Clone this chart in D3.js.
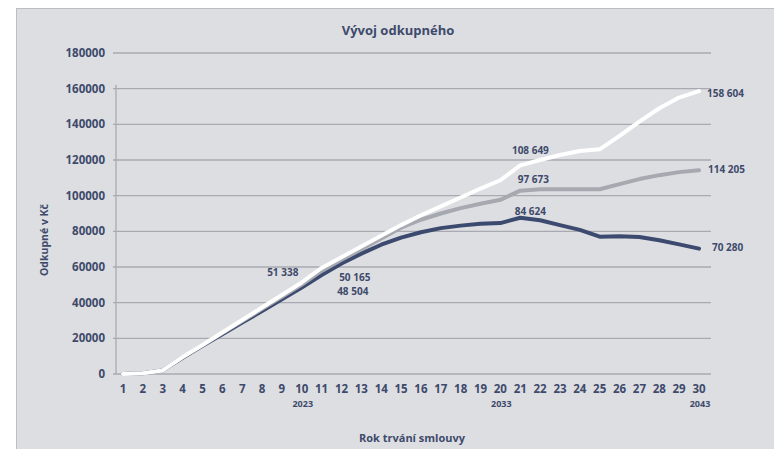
<!DOCTYPE html>
<html>
<head>
<meta charset="utf-8">
<script src="https://cdn.jsdelivr.net/npm/d3@7"></script>
<style>
  html, body { margin: 0; padding: 0; background: #ffffff; }
  svg { display: block; font-family: "Open Sans", "Noto Sans", sans-serif; }
</style>
</head>
<body>
<svg id="chart" width="774" height="449"></svg>
<script>
// ---- data ----
const years = d3.range(1, 31);
const seriesWhite = [0, 400, 2000, 9500, 16300, 23300, 30300, 37300, 44300, 51338,
  59500, 65500, 71500, 77500, 83500, 89000, 94000, 99000, 104000, 108649,
  117000, 120000, 122800, 125000, 126000, 133500, 141500, 149000, 155000, 158604];
const seriesGray = [0, 400, 2000, 9300, 16100, 22900, 29700, 36500, 43300, 50165,
  57800, 64000, 70000, 76000, 82000, 86500, 90000, 93000, 95500, 97673,
  102800, 103600, 103600, 103600, 103600, 106500, 109300, 111500, 113200, 114205];
const seriesDark = [0, 400, 2000, 9100, 15800, 22300, 28800, 35300, 41900, 48504,
  55500, 62000, 67500, 72500, 76500, 79500, 81800, 83200, 84200, 84624,
  87600, 86200, 83500, 80800, 77000, 77300, 76800, 75000, 72700, 70280];
const yTicks = [0, 20000, 40000, 60000, 80000, 100000, 120000, 140000, 160000, 180000];
const yearLabels = [{ cat: 10, label: "2023" }, { cat: 20, label: "2033" }, { cat: 30, label: "2043" }];
const titleText = "Vývoj odkupného";
const yTitle = "Odkupné v Kč";
const xTitle = "Rok trvání smlouvy";
// data labels
const annotations = [
  { year: 10, value: 51338, text: "51 338", dx: -19, dy: -10 },
  { year: 10, value: 50165, text: "50 165", dx: 53, dy: -7 },
  { year: 10, value: 48504, text: "48 504", dx: 51, dy: 3.5 },
  { year: 20, value: 108649, text: "108 649", dx: 30, dy: -30 },
  { year: 20, value: 97673, text: "97 673", dx: 33, dy: -20 },
  { year: 20, value: 84624, text: "84 624", dx: 30, dy: -12 },
];
const endLabels = [
  { value: 158604, text: "158 604", dx: 8, dy: 2 },
  { value: 114205, text: "114 205", dx: 9, dy: -1 },
  { value: 70280, text: "70 280", dx: 13, dy: -1 },
];

// ---- styles ----
const textColor = "#3d4a6b";
const gridColor = "#a9aab1";
const bgColor = "#dddee2";

const svg = d3.select("#chart");
svg.append("rect").attr("x", 16.5).attr("y", 8.5).attr("width", 800).attr("height", 500)
  .attr("fill", bgColor).attr("stroke", "#bdbec3").attr("stroke-width", 1);

const x = d3.scaleLinear().domain([1, 30]).range([123, 699]);
const y = d3.scaleLinear().domain([0, 180000]).range([374, 53]);
const axisLeftX = 116, axisRightX = 711;

// gridlines
svg.append("g").selectAll("line").data(yTicks.filter(d => d > 0)).join("line")
  .attr("x1", axisLeftX - 3).attr("x2", axisRightX)
  .attr("y1", d => y(d)).attr("y2", d => y(d))
  .attr("stroke", gridColor).attr("stroke-width", 1.3);

// y axis line
svg.append("line").attr("x1", axisLeftX).attr("x2", axisLeftX)
  .attr("y1", y(160000) - 4).attr("y2", y(0))
  .attr("stroke", gridColor).attr("stroke-width", 1.3);
// x axis line
svg.append("line").attr("x1", axisLeftX - 3).attr("x2", axisRightX)
  .attr("y1", y(0)).attr("y2", y(0))
  .attr("stroke", gridColor).attr("stroke-width", 1.3);

// y tick labels
svg.append("g").selectAll("text").data(yTicks).join("text")
  .attr("x", 105).attr("y", d => y(d)).attr("dy", "0.35em")
  .attr("text-anchor", "end").attr("fill", textColor)
  .attr("font-size", "11.5px").attr("font-weight", "bold")
  .text(d => d3.format("d")(d));

// x tick labels
svg.append("g").selectAll("text").data(years).join("text")
  .attr("x", d => x(d)).attr("y", 389).attr("dy", "0.35em")
  .attr("text-anchor", "middle").attr("fill", textColor)
  .attr("font-size", "11.5px").attr("font-weight", "bold")
  .text(d => d);

// year labels
svg.append("g").selectAll("text").data(yearLabels).join("text")
  .attr("x", d => x(d.cat) + 1).attr("y", 404).attr("dy", "0.35em")
  .attr("text-anchor", "middle").attr("fill", textColor)
  .attr("font-size", "9px").attr("font-weight", "bold")
  .text(d => d.label);

// titles
svg.append("text").attr("x", 398).attr("y", 30).attr("dy", "0.35em")
  .attr("text-anchor", "middle").attr("fill", textColor)
  .attr("font-size", "13px").attr("font-weight", "bold").text(titleText);
svg.append("text").attr("transform", "translate(44,240) rotate(-90)").attr("dy", "0.35em")
  .attr("text-anchor", "middle").attr("fill", textColor)
  .attr("font-size", "10.5px").attr("font-weight", "bold").text(yTitle);
svg.append("text").attr("x", 412).attr("y", 438).attr("dy", "0.35em")
  .attr("text-anchor", "middle").attr("fill", textColor)
  .attr("font-size", "11px").attr("font-weight", "bold").text(xTitle);

// lines
const line = d3.line().x((d, i) => x(years[i])).y(d => y(d));
const series = [
  { data: seriesDark, color: "#3b4a6e" },
  { data: seriesGray, color: "#a7a9b1" },
  { data: seriesWhite, color: "#ffffff" },
];
svg.append("g").selectAll("path").data(series).join("path")
  .attr("d", d => line(d.data)).attr("fill", "none")
  .attr("stroke", d => d.color).attr("stroke-width", 4)
  .attr("stroke-linejoin", "round").attr("stroke-linecap", "round");

// data labels
svg.append("g").selectAll("text").data(annotations).join("text")
  .attr("x", d => x(d.year) + d.dx).attr("y", d => y(d.value) + d.dy).attr("dy", "0.35em")
  .attr("text-anchor", "middle").attr("fill", textColor)
  .attr("font-size", "10px").attr("font-weight", "bold").text(d => d.text);
svg.append("g").selectAll("text").data(endLabels).join("text")
  .attr("x", x(30)).attr("dx", d => d.dx).attr("y", d => y(d.value) + d.dy).attr("dy", "0.35em")
  .attr("text-anchor", "start").attr("fill", textColor)
  .attr("font-size", "10px").attr("font-weight", "bold").text(d => d.text);
</script>
</body>
</html>
